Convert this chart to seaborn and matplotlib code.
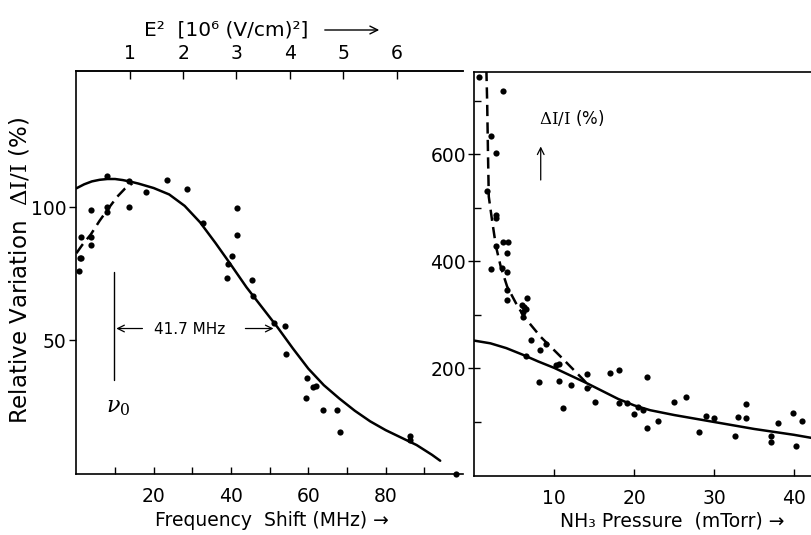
import matplotlib
matplotlib.use("Agg")
import matplotlib.pyplot as plt
import seaborn as sns
import pandas as pd

# ---------------- data ----------------
# Left panel: Frequency shift (MHz) vs relative variation (%)
freq_pts = [8.0, 13.7, 23.5, 28.6, 17.9, 13.7, 7.8, 7.8, 3.8, 1.1, 3.8, 3.8, 0.9, 1.1, 0.75,
            41.5, 41.5, 32.8, 40.3, 39.1, 38.9, 45.5, 45.8, 51.2, 53.9, 54.2, 59.6, 61.1,
            62.0, 59.4, 63.9, 67.4, 68.1, 86.2, 86.2, 98.2]
var_pts = [112.0, 110.0, 110.2, 107.1, 105.8, 100.1, 100.1, 98.4, 98.9, 89.0, 89.0, 85.9, 81.1,
           80.9, 76.1, 99.7, 89.7, 94.1, 81.7, 78.8, 73.6, 72.7, 66.7, 56.7, 55.6, 44.9, 35.9,
           32.6, 32.9, 28.4, 23.8, 23.8, 15.7, 14.2, 12.6, 0.0]
freq_solid = [0, 2, 4, 6, 8, 10, 12, 14, 16, 20, 24, 28, 32, 36, 40, 44, 48, 52, 56, 60, 64,
              68, 72, 76, 80, 84, 88, 92, 94.1]
var_solid = [107.2, 108.7, 109.8, 110.4, 110.7, 110.7, 110.3, 109.7, 109.0, 107.3, 104.9,
             100.6, 94.4, 86.6, 78.4, 70.0, 62.5, 55.0, 47.0, 39.4, 33.2, 28.2, 23.6, 19.6,
             16.3, 13.5, 10.7, 7.0, 4.8]
freq_dash = [0, 1.5, 3.7, 6.0, 8.0, 10.6, 12.5, 14.5]
var_dash = [82.8, 85.9, 89.8, 95.0, 99.1, 104.1, 107.0, 109.1]

# Right panel: NH3 pressure (mTorr) vs dI/I (%)
pres_pts = [0.58, 3.6, 2.1, 2.7, 1.6, 2.7, 2.7, 2.7, 3.6, 4.2, 4.1, 2.1, 3.4, 4.1, 4.1, 4.1,
            6.0, 6.2, 6.4, 6.6, 6.1, 6.1, 7.1, 9.0, 8.2, 6.5, 10.2, 10.6, 8.1, 10.6, 12.1,
            14.1, 14.1, 11.05, 15.1, 17.0, 18.1, 18.1, 19.1, 20.0, 20.5, 21.1, 21.6, 21.6,
            23.0, 25.0, 26.5, 28.1, 29.0, 30.0, 32.6, 33.0, 34.0, 34.0, 37.1, 37.1, 38.0,
            39.9, 40.2, 41.0]
dii_pts = [745, 719, 635, 602, 532, 486, 481, 428, 436, 436, 416, 386, 387, 380, 347, 328,
           319, 314, 312, 331, 297, 306, 253, 246, 235, 223, 207, 208, 174, 177, 169,
           190, 163, 126, 138, 191, 198, 135, 135, 114, 128, 122, 184, 88,
           102, 137, 147, 82, 111, 108, 74, 109, 133, 107, 74, 63, 99,
           116, 56, 101]
pres_solid = [0, 2, 4, 6, 8, 10, 12, 14, 16, 18, 20, 22, 25, 30, 35, 40, 42.3]
dii_solid = [252, 247, 238, 226, 213, 201, 187, 173, 158, 143, 131, 122, 113, 100, 87, 76, 70]
pres_dash = [1.5, 1.6, 1.7, 1.8, 2.2, 2.7, 3.3, 4.1, 5.2, 6.2, 8.3, 10.8, 13.7, 14.6]
dii_dash = [758, 696, 602, 521, 478, 428, 390, 353, 322, 297, 259, 222, 178, 163]

e2_ticks = [1, 2, 3, 4, 5, 6]
e2_scale = 13.8  # MHz per 10^6 (V/cm)^2 on the top axis

# ---------------- style ----------------
sns.set_theme(style="white")
plt.rcParams["font.family"] = ["DejaVu Sans"]
plt.rcParams["mathtext.fontset"] = "dejavuserif"
plt.rcParams["text.color"] = "black"
plt.rcParams["axes.labelcolor"] = "black"
plt.rcParams["xtick.color"] = "black"
plt.rcParams["ytick.color"] = "black"

fig = plt.figure(figsize=(8.12, 5.35), dpi=100)
W, H = 812, 535
ax1 = fig.add_axes([76.4 / W, (H - 473.5) / H, (463 - 76.4) / W, (473.5 - 71) / H])
ax2 = fig.add_axes([474.4 / W, (H - 475.5) / H, (812 - 474.4) / W, (475.5 - 72) / H])

LW = 1.8
DASH = (0, (4.5, 2.5))
for ax in (ax1, ax2):
    ax.set_facecolor("white")
    for s in ("left", "bottom", "top"):
        ax.spines[s].set_visible(True)
        ax.spines[s].set_color("black")
        ax.spines[s].set_linewidth(1.2)
    ax.spines["right"].set_visible(False)

# ---------------- left panel ----------------
df_lp = pd.DataFrame({"f": freq_pts, "v": var_pts})
sns.scatterplot(data=df_lp, x="f", y="v", ax=ax1, color="black", s=20, linewidth=0,
                zorder=3, clip_on=False)
sns.lineplot(x=freq_solid, y=var_solid, ax=ax1, color="black", linewidth=LW)
sns.lineplot(x=freq_dash, y=var_dash, ax=ax1, color="black", linewidth=LW, linestyle=DASH)
ax1.set_xlim(0, 100)
ax1.set_ylim(0, 151.3)
ax1.set_xticks([20, 40, 60, 80])
ax1.set_xticks([10, 30, 50, 70, 90], minor=True)
ax1.set_yticks([50, 100])
ax1.tick_params(axis="x", which="both", direction="in", length=5, width=1, bottom=True,
                labelsize=13.5, pad=10, colors="black")
ax1.tick_params(axis="y", which="major", direction="out", length=5, width=1, left=True,
                labelsize=13.5, pad=2, colors="black")
ax1.set_xlabel("")
ax1.set_ylabel("")

sec = ax1.secondary_xaxis("top", functions=(lambda f: f / e2_scale, lambda e: e * e2_scale))
sec.set_xticks(e2_ticks)
sec.tick_params(axis="x", direction="in", length=6, width=1, labelsize=13.5, pad=6,
                colors="black")
sec.spines["top"].set_linewidth(1.2)

# nu_0 marker and width annotation
ax1.plot([9.6, 9.6], [35.2, 75.9], color="black", linewidth=1.0)
ax1.text(10.8, 24.5, r"$\nu_0$", fontsize=16, ha="center", va="center")
ax1.annotate("", xy=(9.6, 54.5), xytext=(17.8, 54.5),
             arrowprops=dict(arrowstyle="->", color="black", lw=0.9))
ax1.annotate("", xy=(51.7, 54.5), xytext=(43.0, 54.5),
             arrowprops=dict(arrowstyle="->", color="black", lw=0.9))
ax1.text(29.4, 54.3, "41.7 MHz", fontsize=11, ha="center", va="center")

# ---------------- right panel ----------------
df_rp = pd.DataFrame({"p": pres_pts, "d": dii_pts})
sns.scatterplot(data=df_rp, x="p", y="d", ax=ax2, color="black", s=20, linewidth=0,
                zorder=3, clip_on=False)
sns.lineplot(x=pres_solid, y=dii_solid, ax=ax2, color="black", linewidth=LW)
sns.lineplot(x=pres_dash, y=dii_dash, ax=ax2, color="black", linewidth=LW, linestyle=DASH)
ax2.set_xlim(0, 42.25)
ax2.set_ylim(0, 754)
ax2.set_xticks([10, 20, 30, 40])
ax2.set_yticks([200, 400, 600])
ax2.set_yticks([100, 300, 500, 700], minor=True)
ax2.tick_params(axis="x", which="major", direction="in", length=5, width=1, bottom=True,
                labelsize=13.5, pad=10, colors="black")
ax2.tick_params(axis="y", which="major", direction="inout", length=8, width=1, left=True,
                labelsize=13.5, pad=2, colors="black")
ax2.tick_params(axis="y", which="minor", direction="in", length=5, width=1, left=True)
ax2.set_xlabel("")
ax2.set_ylabel("")
ax2.text(8.1, 668, r"$\Delta\mathrm{I}/\mathrm{I}$ (%)", fontsize=12, ha="left",
         va="center")
ax2.annotate("", xy=(8.3, 620), xytext=(8.3, 547),
             arrowprops=dict(arrowstyle="->", color="black", lw=0.9))

# ---------------- figure texts ----------------
fig.text(20 / W, 1 - 270 / H, r"Relative Variation  $\Delta\mathrm{I}/\mathrm{I}$ (%)",
         rotation=90, ha="center", va="center", fontsize=16.5)
fig.text(272 / W, 1 - 521 / H, "Frequency  Shift (MHz) →", ha="center", va="center",
         fontsize=13.5)
fig.text(672 / W, 1 - 521 / H, "NH₃ Pressure  (mTorr) →", ha="center", va="center",
         fontsize=13.5)
fig.text(226 / W, 1 - 30 / H, "E²  [10⁶ (V/cm)²]", ha="center", va="center",
         fontsize=14.5)
fig.patches.append(matplotlib.patches.FancyArrowPatch(
    (322 / W, 1 - 30 / H), (382 / W, 1 - 30 / H), transform=fig.transFigure,
    arrowstyle="->", mutation_scale=14, color="black", lw=1.0))

fig.savefig("out.png", dpi=100, facecolor="white")
